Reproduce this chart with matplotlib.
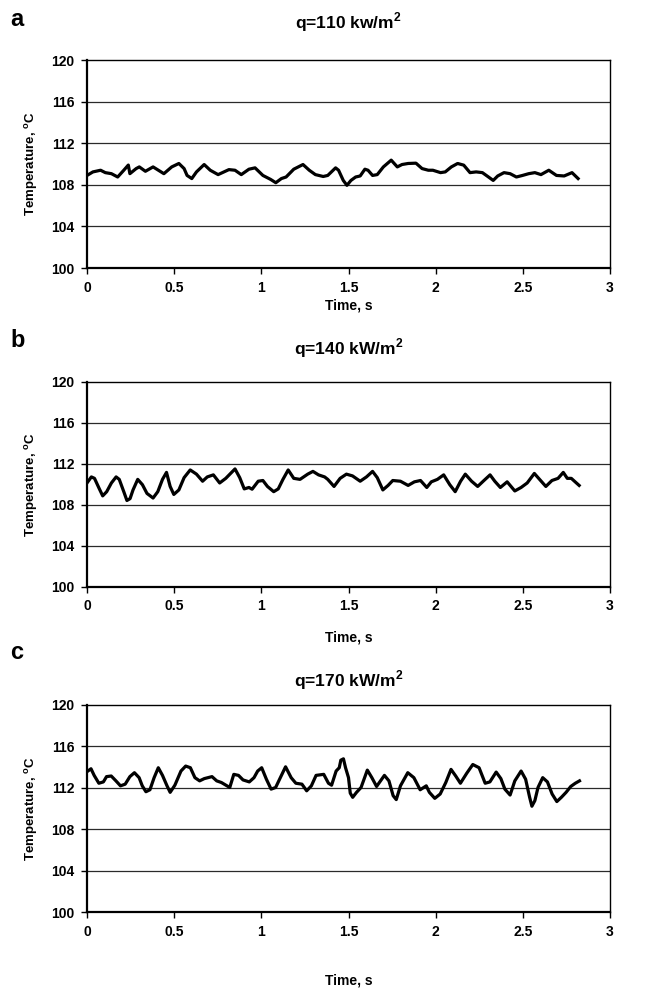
import numpy as np
import matplotlib
matplotlib.use("Agg")
import matplotlib.pyplot as plt

plt.rcParams['font.family'] = ['Liberation Sans', 'DejaVu Sans']
plt.rcParams['font.weight'] = 'bold'
plt.rcParams['mathtext.fontset'] = 'custom'
plt.rcParams['mathtext.rm'] = 'Liberation Sans:bold'
plt.rcParams['mathtext.bf'] = 'Liberation Sans:bold'

# panel a: q=110 kW/m2
t_a = [0.0, 0.034, 0.078, 0.105, 0.14, 0.176, 0.211, 0.237, 0.246, 0.282, 0.30, 0.335,
       0.379, 0.441, 0.486, 0.527, 0.557, 0.574, 0.601, 0.628, 0.672, 0.707, 0.752,
       0.814, 0.849, 0.885, 0.929, 0.964, 1.009, 1.053, 1.083, 1.115, 1.142, 1.186,
       1.239, 1.275, 1.31, 1.355, 1.381, 1.426, 1.443, 1.47, 1.491, 1.514, 1.541,
       1.567, 1.594, 1.612, 1.638, 1.665, 1.70, 1.745, 1.78, 1.807, 1.842, 1.887,
       1.922, 1.958, 1.984, 2.028, 2.055, 2.09, 2.126, 2.161, 2.197, 2.232, 2.268,
       2.303, 2.33, 2.356, 2.392, 2.427, 2.463, 2.498, 2.534, 2.569, 2.604, 2.649,
       2.693, 2.737, 2.782, 2.817]
temp_a = [108.9, 109.24, 109.4, 109.17, 109.07, 108.75, 109.4, 109.9, 109.07, 109.56,
          109.72, 109.3, 109.72, 109.07, 109.72, 110.05, 109.56, 108.9, 108.6, 109.24,
          109.95, 109.4, 108.98, 109.46, 109.4, 108.98, 109.5, 109.63, 108.9, 108.52,
          108.2, 108.6, 108.75, 109.5, 109.95, 109.4, 108.98, 108.8, 108.9, 109.63,
          109.4, 108.42, 107.95, 108.42, 108.75, 108.85, 109.5, 109.4, 108.9, 108.98,
          109.72, 110.37, 109.72, 109.95, 110.05, 110.08, 109.56, 109.4, 109.4, 109.17,
          109.24, 109.72, 110.05, 109.89, 109.17, 109.24, 109.17, 108.75, 108.42,
          108.85, 109.17, 109.07, 108.75, 108.9, 109.07, 109.17, 108.98, 109.4, 108.9,
          108.85, 109.17, 108.6]

# panel b: q=140 kW/m2
t_b = [0.0, 0.025, 0.043, 0.069, 0.09, 0.113, 0.14, 0.167, 0.185, 0.211, 0.229, 0.247,
       0.264, 0.291, 0.318, 0.344, 0.379, 0.406, 0.433, 0.456, 0.477, 0.498, 0.527,
       0.557, 0.592, 0.628, 0.663, 0.69, 0.725, 0.761, 0.796, 0.849, 0.876, 0.902,
       0.929, 0.947, 0.982, 1.009, 1.035, 1.071, 1.097, 1.124, 1.154, 1.186, 1.222,
       1.266, 1.296, 1.328, 1.363, 1.381, 1.417, 1.452, 1.488, 1.523, 1.567, 1.603,
       1.638, 1.665, 1.697, 1.727, 1.754, 1.798, 1.842, 1.878, 1.913, 1.949, 1.975,
       2.01, 2.046, 2.081, 2.112, 2.143, 2.17, 2.206, 2.241, 2.277, 2.312, 2.339,
       2.371, 2.41, 2.454, 2.49, 2.525, 2.566, 2.596, 2.632, 2.667, 2.702, 2.732,
       2.755, 2.778, 2.80, 2.823]
temp_b = [110.15, 110.74, 110.6, 109.64, 108.89, 109.3, 110.15, 110.74, 110.5, 109.3,
          108.44, 108.62, 109.47, 110.5, 109.98, 109.13, 108.68, 109.3, 110.5, 111.18,
          109.81, 109.03, 109.47, 110.67, 111.42, 111.01, 110.32, 110.74, 110.94,
          110.15, 110.6, 111.52, 110.67, 109.57, 109.71, 109.54, 110.32, 110.39,
          109.81, 109.3, 109.57, 110.5, 111.42, 110.6, 110.5, 111.01, 111.28, 110.94,
          110.74, 110.5, 109.81, 110.6, 111.01, 110.84, 110.32, 110.74, 111.28, 110.67,
          109.47, 109.91, 110.39, 110.32, 109.91, 110.26, 110.39, 109.71, 110.26, 110.5,
          110.94, 109.98, 109.3, 110.32, 111.01, 110.32, 109.81, 110.39, 110.94, 110.32,
          109.71, 110.26, 109.37, 109.71, 110.15, 111.08, 110.5, 109.81, 110.39, 110.6,
          111.18, 110.6, 110.6, 110.26, 109.91]

# panel c: q=170 kW/m2
t_c = [0.005, 0.023, 0.041, 0.068, 0.094, 0.112, 0.139, 0.166, 0.192, 0.219, 0.246,
       0.272, 0.299, 0.317, 0.338, 0.361, 0.385, 0.409, 0.433, 0.459, 0.477, 0.504,
       0.539, 0.566, 0.593, 0.619, 0.646, 0.673, 0.717, 0.744, 0.771, 0.797, 0.819,
       0.842, 0.869, 0.895, 0.931, 0.958, 0.979, 1.002, 1.029, 1.056, 1.082, 1.109,
       1.139, 1.171, 1.198, 1.233, 1.26, 1.287, 1.314, 1.358, 1.385, 1.403, 1.429,
       1.447, 1.456, 1.471, 1.483, 1.50, 1.51, 1.524, 1.546, 1.572, 1.608, 1.634,
       1.661, 1.706, 1.732, 1.756, 1.774, 1.798, 1.84, 1.875, 1.911, 1.946, 1.964,
       1.995, 2.026, 2.058, 2.088, 2.115, 2.142, 2.178, 2.213, 2.249, 2.284, 2.311,
       2.347, 2.374, 2.397, 2.427, 2.454, 2.49, 2.516, 2.539, 2.552, 2.569, 2.587,
       2.614, 2.641, 2.668, 2.695, 2.721, 2.748, 2.775, 2.801, 2.825]
temp_c = [113.62, 113.84, 113.2, 112.44, 112.57, 113.08, 113.14, 112.67, 112.19, 112.35,
          113.08, 113.46, 112.98, 112.19, 111.62, 111.81, 112.98, 113.94, 113.2, 112.19,
          111.56, 112.25, 113.62, 114.1, 113.94, 112.98, 112.67, 112.89, 113.08, 112.67,
          112.51, 112.25, 112.03, 113.3, 113.2, 112.76, 112.57, 112.98, 113.62, 113.94,
          112.83, 111.87, 112.03, 112.98, 114.03, 112.98, 112.44, 112.35, 111.71, 112.19,
          113.2, 113.3, 112.44, 112.25, 113.62, 113.94, 114.67, 114.8, 113.94, 112.98,
          111.49, 111.08, 111.56, 112.03, 113.71, 112.98, 112.13, 113.2, 112.67, 111.24,
          110.86, 112.19, 113.46, 112.98, 111.81, 112.19, 111.56, 110.98, 111.4, 112.51,
          113.78, 113.14, 112.44, 113.4, 114.25, 113.94, 112.44, 112.57, 113.52, 112.89,
          111.87, 111.3, 112.67, 113.62, 112.83, 111.08, 110.22, 110.76, 112.03, 112.98,
          112.57, 111.4, 110.67, 111.08, 111.56, 112.13, 112.44, 112.67]

titles = ['q=110 kw/m$^2$', 'q=140 kW/m$^2$', 'q=170 kW/m$^2$']
letters = ['a', 'b', 'c']
yticks = [100, 104, 108, 112, 116, 120]
xticks = [0, 0.5, 1, 1.5, 2, 2.5, 3]
xticklabels = ['0', '0.5', '1', '1.5', '2', '2.5', '3']

W, H = 667, 996
fig = plt.figure(figsize=(W / 100, H / 100), dpi=100)

# axes boxes in pixels: left, top, right, bottom
boxes = [(87, 60, 610, 268), (87, 382, 610, 587), (87, 705, 610, 912)]
title_y = [22, 348, 680]
letter_y = [20, 340, 652]
xlabel_y = [305, 637, 980]

series = [(t_a, temp_a), (t_b, temp_b), (t_c, temp_c)]

for i, (l, t, r, b) in enumerate(boxes):
    ax = fig.add_axes([l / W, 1 - b / H, (r - l) / W, (b - t) / H])
    ax.set_xlim(0, 3)
    ax.set_ylim(100, 120)
    for y in yticks[1:-1]:
        ax.axhline(y, color='#2a2a2a', lw=0.9, zorder=1)
    x, y = series[i]
    ax.plot(x, y, color='black', lw=2.3, solid_joinstyle='round', zorder=3)
    ax.set_yticks(yticks)
    ax.set_xticks(xticks)
    ax.set_xticklabels(xticklabels)
    ax.tick_params(labelsize=10, direction='out', length=4, width=1, pad=5)
    for lab in ax.get_xticklabels() + ax.get_yticklabels():
        lab.set_fontweight('bold')
    for s in ['left', 'bottom']:
        ax.spines[s].set_linewidth(1.6)
    for s in ['top', 'right']:
        ax.spines[s].set_linewidth(1.0)
    ax.set_ylabel('Temperature, $^{\\mathrm{o}}$C', fontsize=9.5, fontweight='bold', labelpad=8)
    fig.text((l + r) / 2 / W, 1 - xlabel_y[i] / H, 'Time, s', ha='center', va='center',
             fontsize=10, fontweight='bold')
    fig.text((l + r) / 2 / W, 1 - title_y[i] / H, titles[i], ha='center', va='center',
             fontsize=12.5, fontweight='bold')
    fig.text(10 / W, 1 - letter_y[i] / H, letters[i], ha='left', va='center',
             fontsize=17, fontweight='bold')

fig.savefig('out.png', dpi=100)
